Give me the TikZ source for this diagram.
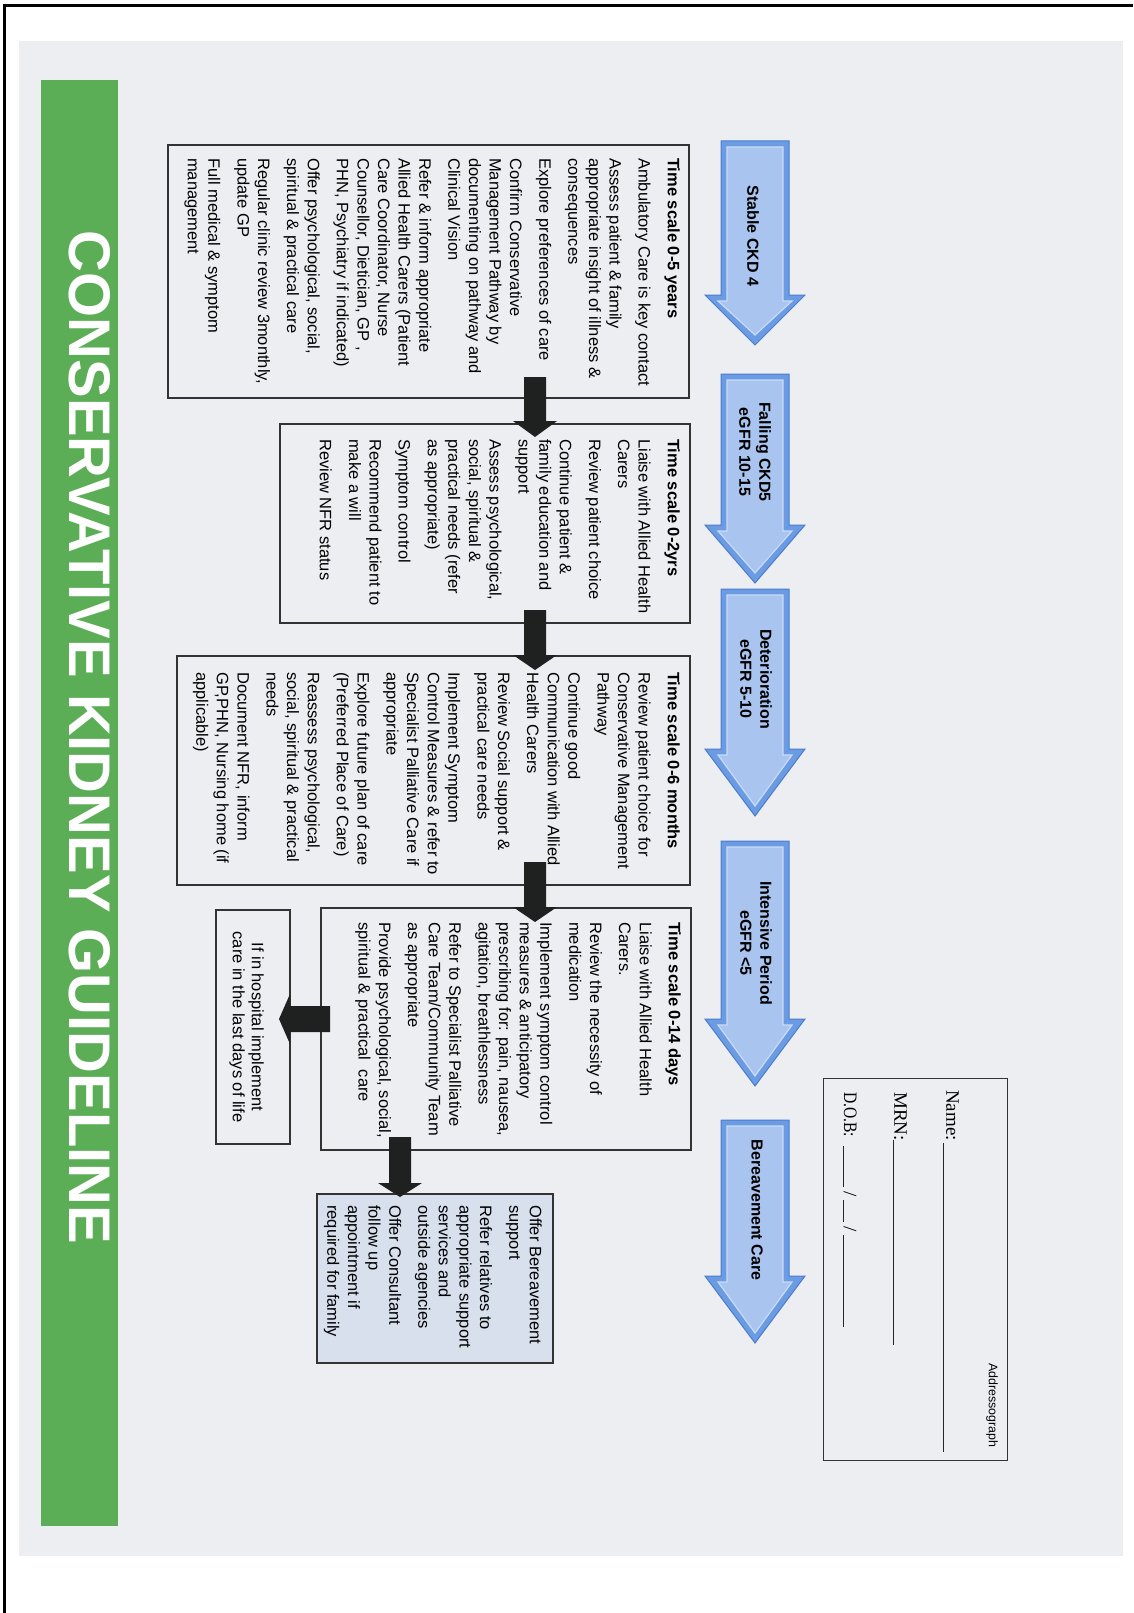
\documentclass[tikz,border=0pt]{standalone}
\usepackage{fontspec}
\setmainfont{Liberation Sans}
\newfontfamily\serifface{Liberation Serif}
\definecolor{pagegray}{HTML}{EDEEF2}
\definecolor{kgreen}{HTML}{5BAE55}
\definecolor{arrowblack}{HTML}{1E211F}
\definecolor{arrowmid}{HTML}{6B9BE2}
\definecolor{arrowdark}{HTML}{4A7DCF}
\definecolor{arrowlight}{HTML}{A9C5EF}
\definecolor{arrowhi}{HTML}{C9DBF5}
\definecolor{bereavefill}{HTML}{D7E0EC}
\definecolor{boxgray}{HTML}{333333}
\newcommand{\bluearrowshape}[4]{%
  \coordinate (#1-top) at (755,#2);
  \coordinate (#1-tip) at (755,#4);
  \path[fill=arrowmid, draw=arrowdark, line width=1pt]
    (721,#2) -- (789,#2) -- (789,#3) -- (805,#3) -- (#1-tip) -- (705,#3) -- (721,#3) -- cycle;
  \path[fill=arrowlight, draw=arrowhi, line width=1.2pt]
    (727,{#2+6}) -- (783,{#2+6}) -- (783,{#3+6}) -- (792,{#3+6}) -- (755,{#4-10}) -- (718,{#3+6}) -- (727,{#3+6}) -- cycle;
}
\newcommand{\vblackarrow}[5]{%
  \coordinate (#1-tip) at (#2,#5);
  \fill[arrowblack] ({#2-11},#3) -- ({#2+11},#3) -- ({#2+11},#4) -- ({#2+22},#4) -- (#1-tip) -- ({#2-22},#4) -- ({#2-11},#4) -- cycle;
}
\begin{document}
\begin{tikzpicture}[x=1pt,y=-1pt,
  boxline/.style={draw=boxgray, line width=1.3pt},
  boxtext/.style={rotate=-90, anchor=north west, inner sep=0pt, align=left, font=\fontsize{16.5}{20.6}\selectfont},
  arrowlabel/.style={rotate=-90, inner sep=0pt, align=center, font=\bfseries\fontsize{16}{20}\selectfont},
  formtext/.style={rotate=-90, anchor=north west, inner sep=0pt, font=\serifface\fontsize{19}{22}\selectfont},
  formline/.style={draw=black!85, line width=0.8pt}]
\useasboundingbox (0,0) rectangle (1133,1613);
\fill[white] (0,0) rectangle (1133,1613);
\fill[pagegray] (19,41) rectangle (1123,1556);
\draw[line width=3pt] (4,1613) -- (4,6) -- (1133,6);

% green title bar
\fill[kgreen] (41,80) rectangle (118,1526);
\node[rotate=-90, text=white, inner sep=0pt] (title) at (90,737.5)
  {\resizebox{1013pt}{41pt}{\bfseries CONSERVATIVE KIDNEY GUIDELINE}};

% boxes
\draw[boxline] (168,145) rectangle (689,398);
\draw[boxline] (280,424) rectangle (690,623);
\draw[boxline] (177,656) rectangle (690,885);
\draw[boxline] (321,908) rectangle (691,1150);
\draw[boxline] (216,910) rectangle (290,1144);
\draw[boxline, fill=bereavefill] (317,1194) rectangle (553,1363);

\node[boxtext] (t1) at (680,158) {\textbf{Time scale 0-5 years}\\[8.5pt]
Ambulatory Care is key contact\\[8.5pt]
Assess patient \& family\\ appropriate insight of illness \&\\ consequences\\[8.5pt]
Explore preferences of care\\[8.5pt]
Confirm Conservative\\ Management Pathway by\\ documenting on pathway and\\ Clinical Vision\\[8.5pt]
Refer \& inform appropriate\\ Allied Health Carers (Patient\\ Care Coordinator, Nurse\\ Counsellor, Dietician, GP ,\\ PHN, Psychiatry if indicated)\\[8.5pt]
Offer psychological, social,\\ spiritual \& practical care\\[8.5pt]
Regular clinic review 3monthly,\\ update GP\\[8.5pt]
Full medical \& symptom\\ management};

\node[boxtext] (t2) at (680,439) {\textbf{Time scale 0-2yrs}\\[8.5pt]
Liaise with Allied Health\\ Carers\\[8.5pt]
Review patient choice\\[8.5pt]
Continue patient \&\\ family education and\\ support\\[8.5pt]
Assess psychological,\\ social, spiritual \&\\ practical needs (refer\\ as appropriate)\\[8.5pt]
Symptom control\\[8.5pt]
Recommend patient to\\ make a will\\[8.5pt]
Review NFR status};

\node[boxtext] (t3) at (680,672) {\textbf{Time scale 0-6 months}\\[8.5pt]
Review patient choice for\\ Conservative Management\\ Pathway\\[8.5pt]
Continue good\\ Communication with Allied\\ Health Carers\\[8.5pt]
Review Social support \&\\ practical care needs\\[8.5pt]
Implement Symptom\\ Control Measures \& refer to\\ Specialist Palliative Care if\\ appropriate\\[8.5pt]
Explore future plan of care\\ (Preferred Place of Care)\\[8.5pt]
Reassess psychological,\\ social, spiritual \& practical\\ needs\\[8.5pt]
Document NFR, inform\\ GP,PHN, Nursing home (if\\ applicable)};

\node[boxtext] (t4) at (681,922) {\textbf{Time scale 0-14 days}\\[8.5pt]
Liaise with Allied Health\\ Carers.\\[8.5pt]
Review the necessity of\\ medication\\[8.5pt]
Implement symptom control\\ measures \& anticipatory\\ prescribing for: pain, nausea,\\ agitation, breathlessness\\[8.5pt]
Refer to Specialist Palliative\\ Care Team/Community Team\\ as appropriate\\[8.5pt]
Provide psychological, social,\\ spiritual \& practical\ \ care};

\node[rotate=-90, anchor=north, inner sep=0pt, align=center, font=\fontsize{16.5}{19}\selectfont] (t5) at (264,1027)
  {If in hospital implement\\ care in the last days of life};

\node[boxtext] (t6) at (542,1205) {Offer Bereavement\\ support\\[8.5pt]
Refer relatives to\\ appropriate support\\ services and\\ outside agencies\\[8.5pt]
Offer Consultant\\ follow up\\ appointment if\\ required for family};

% blue stage arrows
\bluearrowshape{s1}{141}{295}{345}
\bluearrowshape{s2}{374}{525}{583}
\bluearrowshape{s3}{589}{749}{816}
\bluearrowshape{s4}{841}{1019}{1086}
\bluearrowshape{s5}{1120}{1276}{1343}
\node[arrowlabel] (l1) at (753,236) {Stable CKD 4};
\node[arrowlabel] (l2) at (755,452) {Falling CKD5\\eGFR 10-15};
\node[arrowlabel] (l3) at (756,679) {Deterioration\\eGFR 5-10};
\node[arrowlabel] (l4) at (756,943) {Intensive Period\\eGFR <5};
\node[arrowlabel] (l5) at (757,1210) {Bereavement Care};

% black connector arrows
\vblackarrow{a1}{535}{377}{421}{437}
\vblackarrow{a2}{535}{610}{655}{670}
\vblackarrow{a3}{535}{862}{907}{922}
\vblackarrow{a4}{400}{1137}{1183}{1197}
\coordinate (a5-tip) at (279,1019);
\fill[arrowblack] (330,1006) -- (330,1032) -- (290,1032) -- (290,1044) -- (a5-tip) -- (290,994) -- (290,1006) -- cycle;

% addressograph
\draw[boxgray, line width=1pt] (823,1078) rectangle (1007,1460);
\node[formtext] (fname) at (959,1090) {Name:};
\draw[formline] (943,1143) -- (943,1452);
\node[formtext] (fmrn) at (907,1092) {MRN:};
\draw[formline] (893,1140) -- (893,1345);
\node[formtext] (fdob) at (857,1092) {\scalebox{0.82}[1]{D.O.B:}};
\draw[formline] (843,1146) -- (843,1187);
\node[rotate=-90, inner sep=0pt, font=\serifface\fontsize{19}{22}\selectfont] (sl1) at (850,1194) {/};
\draw[formline] (843,1200) -- (843,1222);
\node[rotate=-90, inner sep=0pt, font=\serifface\fontsize{19}{22}\selectfont] (sl2) at (850,1229) {/};
\draw[formline] (843,1235) -- (843,1327);
\node[rotate=-90, anchor=north west, inner sep=0pt, font=\fontsize{12.4}{14}\selectfont] (addr) at (998,1363) {Addressograph};
\end{tikzpicture}
\end{document}
